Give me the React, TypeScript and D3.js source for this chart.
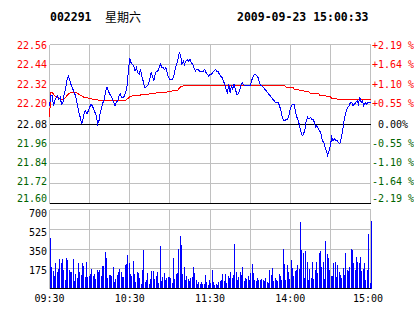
import React from 'react';
import * as d3 from 'd3';

const stockCode = '002291';
const dayLabel = '星期六';
const timestamp = '2009-09-23 15:00:33';
const prevClose = 22.08;

const priceTicks = [22.56, 22.44, 22.32, 22.2, 22.08, 21.96, 21.84, 21.72, 21.6];
const priceTickLabels = ['22.56', '22.44', '22.32', '22.20', '22.08', '21.96', '21.84', '21.72', '21.60'];
const pctTickLabels = ['+2.19 %', '+1.64 %', '+1.10 %', '+0.55 %', ' 0.00%', '-0.55 %', '-1.10 %', '-1.64 %', '-2.19 %'];
const volTicks = [700, 525, 350, 175];
const volTickLabels = ['700', '525', '350', '175'];
const timeLabels = ['09:30', '10:30', '11:30', '14:00', '15:00'];
const timeLabelMinutes = [0, 60, 120, 180, 240];
const gridMinutes = [0, 30, 60, 90, 120, 150, 180, 210, 240];

const price = [
  22.19, 22.25, 22.25, 22.19, 22.22, 22.24, 22.25, 22.23, 22.24, 22.2,
  22.21, 22.26, 22.29, 22.34, 22.37, 22.35, 22.32, 22.3, 22.28, 22.26,
  22.23, 22.19, 22.15, 22.12, 22.08, 22.11, 22.15, 22.16, 22.14, 22.16,
  22.18, 22.2, 22.19, 22.17, 22.15, 22.13, 22.08, 22.1, 22.15, 22.18,
  22.21, 22.23, 22.28, 22.3, 22.28, 22.26, 22.25, 22.23, 22.21, 22.19,
  22.21, 22.22, 22.25, 22.26, 22.24, 22.24, 22.25, 22.27, 22.31, 22.4,
  22.48, 22.45, 22.44, 22.43, 22.4, 22.42, 22.39, 22.38, 22.41, 22.37,
  22.34, 22.3, 22.3, 22.31, 22.32, 22.35, 22.39, 22.37, 22.34, 22.38,
  22.4, 22.4, 22.42, 22.44, 22.42, 22.42, 22.41, 22.42, 22.39, 22.36,
  22.35, 22.35, 22.35, 22.37, 22.41, 22.44, 22.47, 22.51, 22.5, 22.44,
  22.46, 22.44, 22.46, 22.47, 22.46, 22.47, 22.45, 22.44, 22.42, 22.4,
  22.41, 22.41, 22.4, 22.4, 22.4, 22.4, 22.41, 22.39, 22.38, 22.37,
  22.38, 22.38, 22.39, 22.4, 22.41, 22.4, 22.4, 22.38, 22.37, 22.36,
  22.34, 22.32, 22.29, 22.27, 22.32, 22.27, 22.31, 22.29, 22.32, 22.29,
  22.26, 22.26, 22.28, 22.31, 22.33, 22.32, 22.31, 22.31, 22.31, 22.31,
  22.31, 22.34, 22.36, 22.38, 22.38, 22.37, 22.36, 22.33, 22.31, 22.31,
  22.3, 22.29, 22.28, 22.27, 22.26, 22.25, 22.24, 22.23, 22.22, 22.21,
  22.21, 22.21, 22.19, 22.16, 22.12, 22.1, 22.1, 22.11, 22.11, 22.13,
  22.17, 22.19, 22.2, 22.2, 22.15, 22.12, 22.1, 22.07, 22.03, 22.01,
  22.02, 22.05, 22.1, 22.12, 22.11, 22.12, 22.11, 22.11, 22.09, 22.06,
  22.07, 22.05, 22.04, 22.02, 21.98, 21.97, 21.94, 21.92, 21.89, 21.92,
  21.95, 22.0, 21.98, 21.99, 21.98, 21.98, 21.97, 21.96, 21.99, 22.03,
  22.09, 22.13, 22.16, 22.18, 22.19, 22.21, 22.21, 22.19, 22.2, 22.21,
  22.22, 22.2, 22.24, 22.21, 22.22, 22.19, 22.21, 22.2, 22.21, 22.21,
  22.21,
];

const avgPrice = [
  22.12, 22.27, 22.27, 22.26, 22.25, 22.24, 22.24, 22.235, 22.23, 22.23,
  22.23, 22.235, 22.24, 22.25, 22.26, 22.265, 22.27, 22.27, 22.27, 22.27,
  22.27, 22.265, 22.26, 22.255, 22.25, 22.245, 22.24, 22.24, 22.24, 22.235,
  22.235, 22.235, 22.23, 22.23, 22.23, 22.225, 22.225, 22.22, 22.22, 22.22,
  22.22, 22.22, 22.22, 22.22, 22.22, 22.22, 22.22, 22.22, 22.22, 22.22,
  22.22, 22.22, 22.22, 22.22, 22.22, 22.22, 22.22, 22.225, 22.23, 22.235,
  22.245, 22.245, 22.25, 22.25, 22.25, 22.255, 22.255, 22.255, 22.255, 22.26,
  22.26, 22.26, 22.26, 22.26, 22.26, 22.265, 22.265, 22.265, 22.265, 22.265,
  22.27, 22.27, 22.27, 22.27, 22.27, 22.27, 22.27, 22.27, 22.275, 22.275,
  22.275, 22.275, 22.28, 22.28, 22.28, 22.28, 22.285, 22.295, 22.305, 22.305,
  22.31, 22.31, 22.31, 22.31, 22.31, 22.31, 22.31, 22.31, 22.315, 22.315,
  22.315, 22.315, 22.315, 22.315, 22.315, 22.315, 22.315, 22.315, 22.315, 22.315,
  22.315, 22.315, 22.315, 22.315, 22.315, 22.315, 22.315, 22.315, 22.315, 22.315,
  22.315, 22.315, 22.315, 22.315, 22.315, 22.315, 22.315, 22.315, 22.315, 22.315,
  22.315, 22.315, 22.315, 22.315, 22.315, 22.315, 22.315, 22.315, 22.315, 22.315,
  22.315, 22.315, 22.315, 22.315, 22.315, 22.315, 22.315, 22.315, 22.315, 22.315,
  22.315, 22.315, 22.315, 22.315, 22.315, 22.315, 22.315, 22.315, 22.315, 22.31,
  22.31, 22.31, 22.31, 22.31, 22.31, 22.31, 22.31, 22.3, 22.3, 22.3,
  22.3, 22.3, 22.3, 22.29, 22.29, 22.29, 22.29, 22.28, 22.28, 22.28,
  22.28, 22.275, 22.275, 22.275, 22.275, 22.265, 22.265, 22.265, 22.265, 22.265,
  22.265, 22.265, 22.255, 22.255, 22.255, 22.255, 22.255, 22.245, 22.245, 22.245,
  22.245, 22.235, 22.235, 22.235, 22.235, 22.23, 22.23, 22.23, 22.23, 22.23,
  22.23, 22.23, 22.23, 22.23, 22.23, 22.225, 22.225, 22.225, 22.225, 22.225,
  22.225, 22.225, 22.225, 22.225, 22.225, 22.225, 22.225, 22.225, 22.225, 22.225,
  22.225,
];

const volumeMorning = [
  446, 184, 149, 105, 219, 140, 166, 254, 219, 254,
  158, 70, 263, 245, 158, 140, 140, 254, 61, 122,
  88, 219, 140, 114, 219, 193, 96, 228, 96, 105,
  122, 166, 105, 122, 79, 158, 140, 158, 105, 193,
  193, 315, 263, 88, 114, 114, 105, 184, 53, 79,
  114, 140, 166, 140, 96, 96, 201, 210, 289, 219,
  122, 105, 236, 122, 53, 140, 131, 88, 35, 158,
  333, 53, 70, 131, 35, 79, 149, 149, 79, 105,
  140, 44, 368, 61, 96, 131, 70, 88, 96, 96,
  88, 44, 263, 79, 122, 131, 350, 464, 385, 122,
  184, 70, 105, 79, 61, 88, 96, 184, 131, 70,
  35, 53, 35, 53, 35, 35, 114, 53, 26, 70,
  44,
];

const volumeAfternoon = [
  160, 50, 29, 35, 29, 50, 58, 73, 125, 61,
  125, 44, 102, 88, 146, 88, 117, 394, 146, 73,
  96, 146, 117, 190, 58, 88, 79, 102, 73, 131,
  213, 137, 73, 58, 88, 70, 73, 79, 73, 58,
  88, 52, 44, 160,
  117, 175, 64, 88, 67, 58, 125, 102, 73, 350,
  213, 73, 204, 146, 79, 248, 175, 102, 155, 160,
  204, 166, 583, 341, 306, 88, 330, 233, 73, 166,
  88, 233, 79, 160, 233, 131, 312, 330, 190, 233,
  79, 417, 300, 263, 160, 102, 108, 225, 233, 96,
  204, 143, 117, 88, 175, 117, 306, 160, 155, 184,
  350, 341, 219, 160, 271, 233, 225, 271, 155, 166,
  225, 73, 160, 481, 44, 592,
];

const volume = [...volumeMorning, ...volumeAfternoon];

const RED = '#ff0000';
const GREEN = '#006400';
const GRID = '#c0c0c0';
const MONO = '"DejaVu Sans Mono", "Liberation Mono", monospace';

export default function App() {
  const x = d3.scaleLinear().domain([0, 240]).range([49.5, 370.5]);
  const yP = d3.scaleLinear().domain([21.6, 22.56]).range([203.5, 44.5]);
  const yV = d3.scaleLinear().domain([0, 700]).range([288.5, 209.5]);
  const crisp = (v: number) => Math.floor(v) + 0.5;

  const priceLine = d3.line<number>().x((_, i) => x(i)).y((d) => yP(d));
  const labelNudge = [1, 0.5, 0, -1, 0, 0, -1, -2, -5];
  const volNudge = [4, 3, 2, 2];

  const colorFor = (v: number) => (Math.abs(v - prevClose) < 1e-6 ? '#000' : v > prevClose ? RED : GREEN);

  const pTop = crisp(yP(22.56));
  const pBot = crisp(yP(21.6));
  const vTop = crisp(yV(700));
  const vBot = crisp(yV(0));

  return (
    <svg width={414} height={314} style={{ position: 'absolute', left: 0, top: 0, background: '#fff' }}>
      <rect x={0} y={0} width={414} height={314} fill="#fff" />
      {/* header */}
      <text x={50} y={21} fontFamily={MONO} fontWeight="bold" fontSize={11.5} fill="#000">{stockCode}</text>
      <text x={105} y={21.5} fontFamily='"Noto Sans CJK SC", sans-serif' fontSize={12} fill="#000">{dayLabel}</text>
      <text x={237} y={21} fontFamily={MONO} fontWeight="bold" fontSize={11.5} fill="#000">{timestamp}</text>

      {/* price grid */}
      <g shapeRendering="crispEdges">
        {gridMinutes.map((m) => (
          <line key={'pv' + m} x1={crisp(x(m))} x2={crisp(x(m))} y1={pTop} y2={pBot} stroke={GRID} />
        ))}
        {priceTicks.map((t) => {
          const yy = crisp(yP(t));
          const black = Math.abs(t - prevClose) < 1e-6 || t === 21.6;
          return <line key={'ph' + t} x1={crisp(x(0))} x2={crisp(x(240))} y1={yy} y2={yy} stroke={black ? '#000' : GRID} />;
        })}
        {gridMinutes.map((m) => (
          <line key={'vv' + m} x1={crisp(x(m))} x2={crisp(x(m))} y1={vTop} y2={vBot} stroke={GRID} />
        ))}
        {volTicks.map((t) => (
          <line key={'vh' + t} x1={crisp(x(0))} x2={crisp(x(240))} y1={crisp(yV(t))} y2={crisp(yV(t))} stroke={GRID} />
        ))}
      </g>

      {/* volume bars */}
      <g shapeRendering="crispEdges">
        {volume.map((v, i) => {
          const top = Math.floor(yV(v));
          return <rect key={'b' + i} x={Math.floor(x(i) + 0.84)} y={top} width={1} height={Math.max(0, vBot - top)} fill="#0000ff" />;
        })}
        <line x1={crisp(x(0))} x2={crisp(x(240))} y1={vBot} y2={vBot} stroke="#000" />
      </g>

      {/* price lines */}
      <path d={priceLine(avgPrice) || ''} fill="none" stroke={RED} strokeWidth={1} shapeRendering="crispEdges" />
      <path d={priceLine(price) || ''} fill="none" stroke="#0000ff" strokeWidth={1} shapeRendering="crispEdges" />

      {/* left price labels */}
      {priceTicks.map((t, i) => (
        <text key={'lp' + t} x={47} y={yP(t) + labelNudge[i] + 3.6} textAnchor="end" fontFamily={MONO} fontSize={10} fill={colorFor(t)}>
          {priceTickLabels[i]}
        </text>
      ))}
      {/* right percent labels */}
      {priceTicks.map((t, i) => (
        <text key={'rp' + t} x={372} y={yP(t) + labelNudge[i] + 3.6} fontFamily={MONO} fontSize={10} fill={colorFor(t)} style={{ whiteSpace: 'pre' }}>
          {pctTickLabels[i]}
        </text>
      ))}
      {/* volume labels */}
      {volTicks.map((t, i) => (
        <text key={'vl' + t} x={47} y={yV(t) + volNudge[i] + 3.6} textAnchor="end" fontFamily={MONO} fontSize={10} fill="#000">
          {volTickLabels[i]}
        </text>
      ))}
      {/* time labels */}
      {timeLabels.map((l, i) => (
        <text key={'t' + l} x={x(timeLabelMinutes[i]) - (i === timeLabels.length - 1 ? 2.5 : 0)} y={301.7} textAnchor="middle" fontFamily={MONO} fontSize={10} fill="#000">
          {l}
        </text>
      ))}
    </svg>
  );
}
